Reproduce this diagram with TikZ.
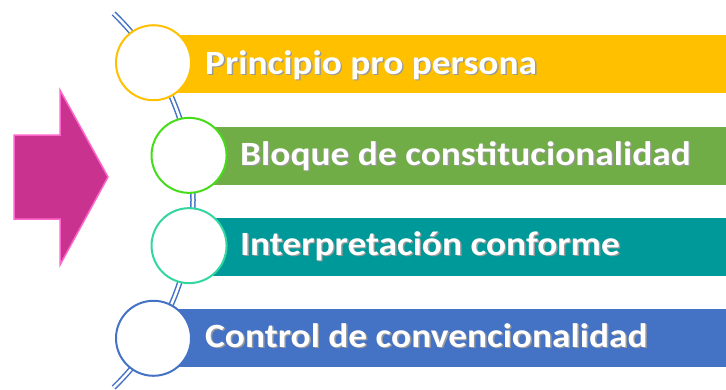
\documentclass[tikz,border=0pt]{standalone}
\usepackage{fontspec}
\setmainfont{Carlito}
\usetikzlibrary{calc,positioning}

\definecolor{barone}{HTML}{FFC000}
\definecolor{bartwo}{HTML}{70AD47}
\definecolor{barthree}{HTML}{009999}
\definecolor{barfour}{HTML}{4472C4}
\definecolor{ringtwo}{HTML}{46DC1A}
\definecolor{ringthree}{HTML}{33D69F}
\definecolor{arrowfill}{HTML}{C9338F}
\definecolor{arrowline}{HTML}{FF66CC}

\newcommand\shadowed[1]{\scalebox{1.1}[1]{\rlap{\kern1.3pt\raisebox{-1.3pt}{\textcolor{black!40}{#1}}}#1}}

\begin{document}
\begin{tikzpicture}[x=1pt,y=-1pt,
  bar/.style={rectangle, inner sep=0pt, minimum height=58pt},
  ring/.style={circle, fill=white, inner sep=0pt, minimum size=75pt, line width=2pt},
  bartext/.style={text=white, inner sep=0pt, font=\fontsize{34}{38}\selectfont\bfseries}]

    \useasboundingbox (0,0) rectangle (726,389);

    % spine
    \coordinate (hub) at (-67,200.5);
    \coordinate (top) at ($(hub)+(-46:260)$);
    \draw[barfour, line width=1.5pt, double=white, double distance=2.5pt]
      (top) arc[start angle=-46, end angle=46, radius=260];

    % bars
    \draw (439.5,64) node[bar, fill=barone, minimum width=573pt] (B1) {};
    \draw (457.5,155.5) node[bar, fill=bartwo, minimum width=537pt] (B2) {};
    \draw (457.5,247) node[bar, fill=barthree, minimum width=537pt] (B3) {};
    \draw (439.5,338) node[bar, fill=barfour, minimum width=573pt] (B4) {};

    % rings
    \draw ($(hub)+(-32:260)$) node[ring, draw=barone] (R1) {};
    \draw ($(hub)+(-10:260)$) node[ring, draw=ringtwo] (R2) {};
    \draw ($(hub)+(10:260)$) node[ring, draw=ringthree] (R3) {};
    \draw ($(hub)+(32:260)$) node[ring, draw=barfour] (R4) {};

    % texts
    \draw (205,74) node[bartext, anchor=base west] (T1) {\shadowed{Principio pro persona}};
    \draw (240,165) node[bartext, anchor=base west] (T2) {\shadowed{Bloque de constitucionalidad}};
    \draw (240,255) node[bartext, anchor=base west] (T3) {\shadowed{Interpretación conforme}};
    \draw (205,347) node[bartext, anchor=base west] (T4) {\shadowed{Control de convencionalidad}};

    % arrow
    \draw[fill=arrowfill, draw=arrowline, line width=1.5pt, line join=miter]
      (14,135) -- (60,135) -- (60,90) -- (108,177) -- (60,265) -- (60,219) -- (14,219) -- cycle;

  \end{tikzpicture}
\end{document}
